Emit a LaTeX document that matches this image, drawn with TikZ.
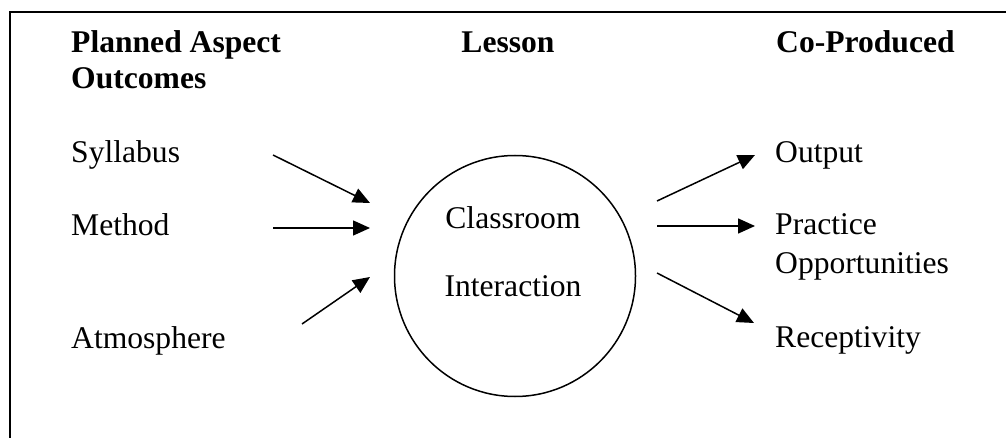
\documentclass[tikz,border=0pt]{standalone}
\usepackage{fontspec}
\setmainfont{Liberation Serif}
\usetikzlibrary{arrows.meta}
\tikzset{
  lbl/.style={inner sep=0pt, anchor=base west, font=\fontsize{31.6}{36.4}\selectfont},
  hdr/.style={lbl, font=\fontsize{31.6}{36.4}\selectfont\bfseries},
  ctr/.style={inner sep=0pt, anchor=base, font=\fontsize{31.6}{36.4}\selectfont},
  arr/.style={line width=1.5pt, -{Triangle[length=17pt,width=15pt]}},
  frame/.style={line width=2pt}
}
\begin{document}
\begin{tikzpicture}[x=1pt,y=-1pt]
\useasboundingbox (0,0) rectangle (1006,438);
% frame
\draw[frame] (10,438) -- (10,12) -- (1006,12);
% headers
\node[hdr] (h1) at (71,53) {Planned Aspect};
\node[hdr] (h1b) at (71,89) {Outcomes};
\node[hdr, anchor=base] (h2) at (508,53) {Lesson};
\node[hdr] (h3) at (776,53) {Co-Produced};
% left labels
\node[lbl] (syl) at (71,163) {Syllabus};
\node[lbl] (met) at (71,236) {Method};
\node[lbl] (atm) at (71,348) {Atmosphere};
% right labels
\node[lbl] (out) at (775,163) {Output};
\node[lbl] (pra) at (775,235) {Practice};
\node[lbl] (pra2) at (775,273) {Opportunities};
\node[lbl] (rec) at (775,347) {Receptivity};
% circle
\node[draw, circle, line width=1.5pt, minimum size=241pt, inner sep=0pt] (ci) at (515,276) {};
\node[ctr] (cl1) at (513,229) {Classroom};
\node[ctr] (cl2) at (513,296) {Interaction};
% arrow end points
\coordinate (a1s) at (273,155);
\coordinate (a1e) at (370,203);
\coordinate (a2s) at (273,228);
\coordinate (a2e) at (370,228);
\coordinate (a3s) at (302,324);
\coordinate (a3e) at (370,277);
\coordinate (b1s) at (657,201);
\coordinate (b1e) at (755,155);
\coordinate (b2s) at (657,226);
\coordinate (b2e) at (755,226);
\coordinate (b3s) at (657,273);
\coordinate (b3e) at (754,323);
\draw[arr] (a1s) -- (a1e);
\draw[arr] (a2s) -- (a2e);
\draw[arr] (a3s) -- (a3e);
\draw[arr] (b1s) -- (b1e);
\draw[arr] (b2s) -- (b2e);
\draw[arr] (b3s) -- (b3e);
\end{tikzpicture}
\end{document}
